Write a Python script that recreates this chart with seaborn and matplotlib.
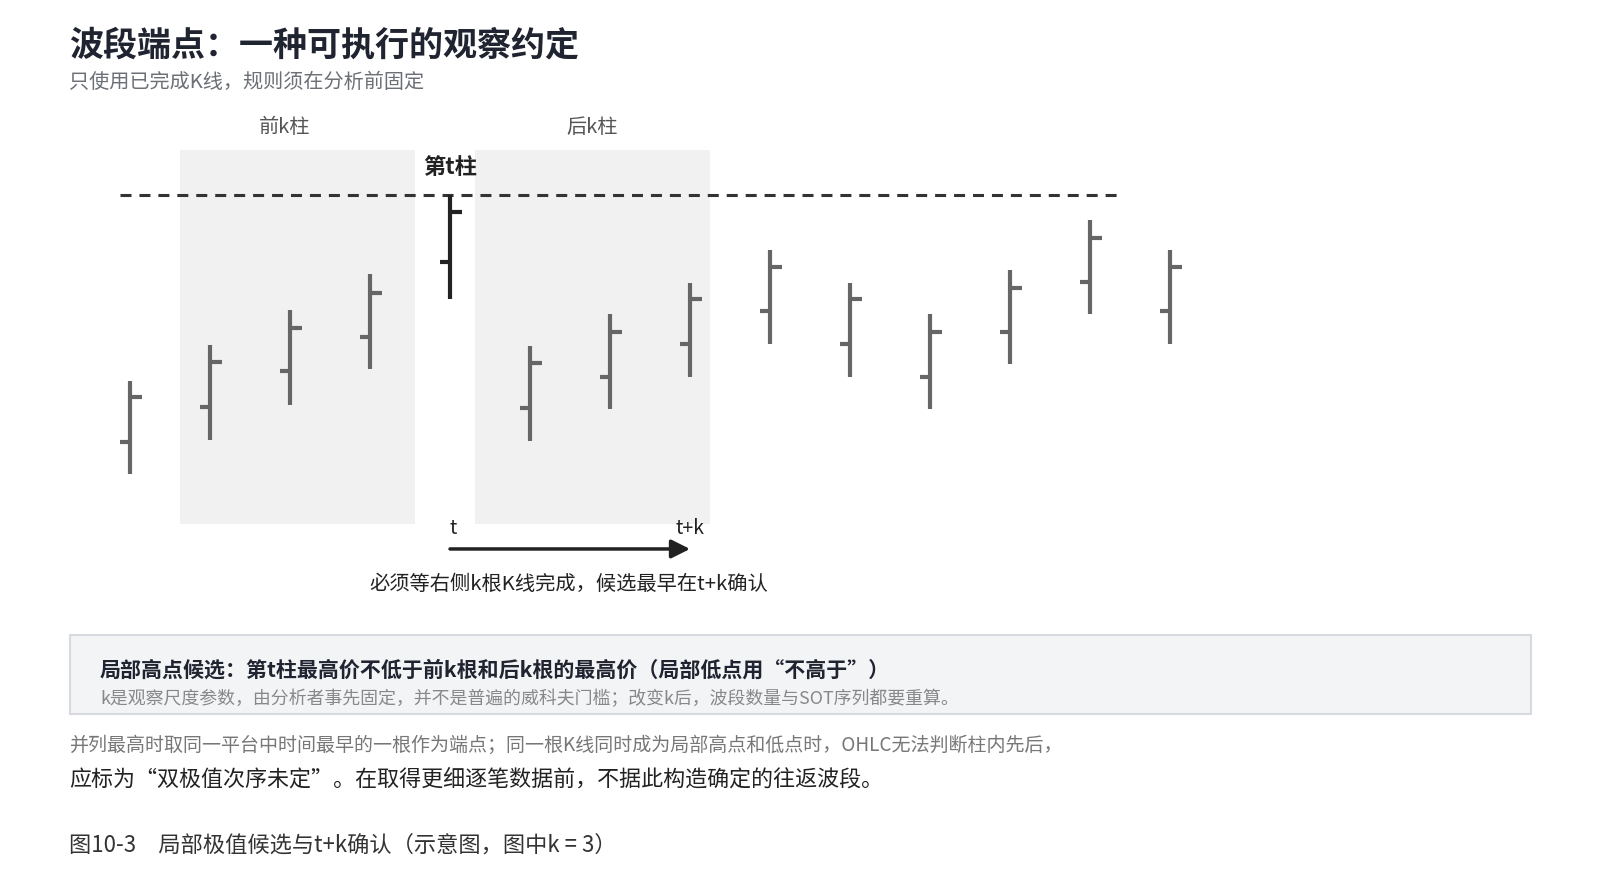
import numpy as np
import pandas as pd
import matplotlib.pyplot as plt
import seaborn as sns
from matplotlib.patches import Rectangle, FancyBboxPatch

# bar data (schematic price units), t bar is index 4, k = 3
bar_idx = list(range(14))
bar_high = [14.7, 18.2, 21.6, 25.1, 32.9, 18.1, 21.2, 24.3, 27.5, 24.3, 21.2, 25.5, 30.4, 27.5]
bar_low = [5.5, 8.9, 12.3, 15.8, 22.7, 8.8, 11.9, 15.1, 18.3, 15.1, 11.9, 16.3, 21.2, 18.3]
bar_open = [8.7, 12.1, 15.6, 19.0, 26.3, 12.0, 15.1, 18.3, 21.5, 18.3, 15.1, 19.5, 24.4, 21.5]
bar_close = [13.1, 16.5, 19.9, 23.3, 31.2, 16.4, 19.5, 22.7, 25.8, 22.7, 19.5, 23.8, 28.7, 25.8]
t_index = 4
k = 3

# shaded windows (data x range) and their labels
win_labels = ['前k柱', '后k柱']
win_label_x = [1.93, 5.77]
win_start = [0.625, 4.31]
win_end = [3.5625, 7.25]
win_bottom, win_top = 0.6, 37.3

df = pd.DataFrame({'i': bar_idx, 'high': bar_high, 'low': bar_low,
                   'open': bar_open, 'close': bar_close})

sns.set_theme(style='white')
plt.rcParams['font.family'] = ['Noto Sans CJK SC', 'DejaVu Sans']

W, H = 1600, 894
fig = plt.figure(figsize=(16, 8.94), dpi=100)
ax = fig.add_axes([0, 0, 1, 1])
ax.set_xlim(-130 / 80, (W - 130) / 80)
ax.set_ylim((530.6 - H) / 10.204, 530.6 / 10.204)
ax.axis('off')


def fx(px):
    return px / W


def fy(py):
    return 1 - py / H


# windows
for lab, lx, s, e in zip(win_labels, win_label_x, win_start, win_end):
    ax.add_patch(Rectangle((s, win_bottom), e - s, win_top - win_bottom,
                           facecolor='#f1f1f1', edgecolor='none', zorder=0))
    ax.text(lx, 39.5, lab, ha='center', va='center', fontsize=14.5, color='#555555')

# dashed reference at t high
ax.hlines(bar_high[t_index], -0.125, 12.36, colors='#333333', lw=2.2,
          linestyles=(0, (3.6, 2.6)), zorder=1)

# OHLC bars
for _, r in df.iterrows():
    c = '#222222' if r['i'] == t_index else '#666666'
    ax.vlines(r['i'], r['low'], r['high'], colors=c, lw=3, zorder=3, capstyle='butt')
    ax.hlines(r['open'], r['i'] - 0.125, r['i'], colors=c, lw=3, zorder=3)
    ax.hlines(r['close'], r['i'], r['i'] + 0.15, colors=c, lw=3, zorder=3)

ax.text(t_index, 35.6, '第t柱', ha='center', va='center', fontsize=16,
        fontweight='bold', color='#222222')

# confirmation arrow
ax.annotate('', xy=(t_index + k, -1.8), xytext=(t_index, -1.8),
            arrowprops=dict(arrowstyle='-|>,head_length=0.8,head_width=0.4',
                            mutation_scale=14, color='#222222', lw=2.5,
                            shrinkA=0, shrinkB=0))
ax.text(t_index + 0.04, 0.2, 't', ha='center', va='center', fontsize=14, color='#222222')
ax.text(t_index + k, 0.2, 't+k', ha='center', va='center', fontsize=14, color='#222222')
fig.text(fx(569), fy(584), '必须等右侧k根K线完成，候选最早在t+k确认', ha='center', va='center',
         fontsize=14.6, color='#222222')

# title
fig.text(fx(69), fy(45), '波段端点：一种可执行的观察约定', ha='left', va='center',
         fontsize=24.5, fontweight='bold', color='#1f2430')
fig.text(fx(69), fy(82), '只使用已完成K线，规则须在分析前固定', ha='left', va='center',
         fontsize=14.5, color='#6b6f76')

# rule box
box = FancyBboxPatch((fx(69.5), fy(714)), fx(1531) - fx(69.5), fy(635) - fy(714),
                     boxstyle='square,pad=0', transform=fig.transFigure,
                     facecolor='#f3f4f6', edgecolor='#d7dade', lw=1.5)
fig.patches.append(box)
fig.text(fx(100), fy(670), '局部高点候选：第t柱最高价不低于前k根和后k根的最高价（局部低点用“不高于”）',
         ha='left', va='center', fontsize=15.1, fontweight='bold', color='#1f2430')
fig.text(fx(100), fy(699), 'k是观察尺度参数，由分析者事先固定，并不是普遍的威科夫门槛；改变k后，波段数量与SOT序列都要重算。',
         ha='left', va='center', fontsize=12.9, color='#888888')

fig.text(fx(69), fy(745), '并列最高时取同一平台中时间最早的一根作为端点；同一根K线同时成为局部高点和低点时，OHLC无法判断柱内先后，',
         ha='left', va='center', fontsize=13.7, color='#777777')
fig.text(fx(69), fy(780), '应标为“双极值次序未定”。在取得更细逐笔数据前，不据此构造确定的往返波段。',
         ha='left', va='center', fontsize=15.85, color='#222222')
fig.text(fx(69), fy(845), '图10-3\u3000局部极值候选与t+k确认（示意图，图中k = 3）',
         ha='left', va='center', fontsize=16, color='#333333')

fig.savefig('out.png', dpi=100)
